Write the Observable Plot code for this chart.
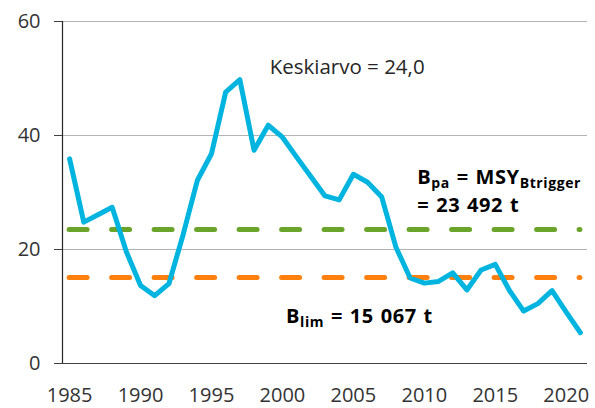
<!DOCTYPE html>
<html>
<head>
<meta charset="utf-8">
<script src="https://cdn.jsdelivr.net/npm/d3@7"></script>
<script src="https://cdn.jsdelivr.net/npm/@observablehq/plot@0.6"></script>
<style>
  html, body { margin: 0; padding: 0; background: #fff; }
  #chart svg { display: block; }
</style>
</head>
<body>
<div id="chart"></div>
<script>
// ---- data ----
const years = [1985,1986,1987,1988,1989,1990,1991,1992,1993,1994,1995,1996,1997,1998,1999,2000,2001,2002,2003,2004,2005,2006,2007,2008,2009,2010,2011,2012,2013,2014,2015,2016,2017,2018,2019,2020,2021];
const biomass = [35.9,24.8,26.1,27.4,19.6,13.7,11.9,14.0,22.6,32.1,36.8,47.6,49.8,37.4,41.8,39.7,36.2,32.8,29.4,28.7,33.2,31.8,29.2,20.4,15.0,14.1,14.4,15.9,12.9,16.4,17.4,12.8,9.2,10.5,12.8,9.0,5.4];
const bpa = 23.492;
const blim = 15.067;
const yTicks = [0, 20, 40, 60];
const xTicks = [1985, 1990, 1995, 2000, 2005, 2010, 2015, 2020];
const meanText = "Keskiarvo = 24,0";

const rows = years.map((year, i) => ({year, value: biomass[i]}));
const first = years[0], last = years[years.length - 1];

const chart = Plot.plot({
  width: 595,
  height: 408,
  marginLeft: 62,
  marginRight: 8,
  marginTop: 21,
  marginBottom: 45,
  style: {fontFamily: "'Open Sans', 'Noto Sans', sans-serif", fontSize: "20px", background: "#fff", color: "#404040"},
  x: {domain: [first - 0.5, last + 0.5]},
  y: {domain: [0, 60]},
  marks: [
    Plot.gridY(yTicks.filter(d => d > 0), {stroke: "#b3b3b3", strokeOpacity: 1, strokeWidth: 1}),
    Plot.ruleX([first - 0.5], {y1: 0, y2: 60, stroke: "#262626", strokeWidth: 1.2}),
    Plot.ruleY([bpa], {x1: first, x2: last, stroke: "#6ba42a", strokeWidth: 5, strokeDasharray: "18,24.5", strokeLinecap: "round"}),
    Plot.ruleY([blim], {x1: first, x2: last, stroke: "#ff800e", strokeWidth: 5, strokeDasharray: "18,24.5", strokeLinecap: "round"}),
    Plot.lineY(rows, {x: "year", y: "value", stroke: "#00b4e0", strokeWidth: 5, strokeLinejoin: "round", strokeLinecap: "round"}),
    Plot.axisY(yTicks, {tickSize: 8, tickPadding: 14, stroke: "#404040", fill: "#333", label: null}),
    Plot.axisX(xTicks, {tickSize: 0, tickPadding: 24, tickFormat: d => String(d), fill: "#333", label: null}),
    Plot.ruleY([0], {x1: first - 0.5, x2: last + 0.5, stroke: "#404040", strokeWidth: 1.2}),
    Plot.text([meanText], {x: [2004.56], y: [52], text: d => d, fontSize: 20.5, fill: "#262626", textAnchor: "middle", lineAnchor: "middle"})
  ]
});

// subscript annotations drawn with the library's scales
const sx = chart.scale("x"), sy = chart.scale("y");
const svg = d3.select(chart.tagName.toLowerCase() === "svg" ? chart : chart.querySelector("svg"));
const g = svg.append("g")
  .attr("font-family", "'Open Sans', 'Noto Sans', sans-serif")
  .attr("font-weight", "bold")
  .attr("text-anchor", "start")
  .attr("letter-spacing", "0.6px")
  .attr("word-spacing", "1px")
  .attr("fill", "#000");

function addLabel(xv, yv, parts) {
  const t = g.append("text").attr("x", sx.apply(xv)).attr("y", sy.apply(yv)).attr("font-size", 20).attr("text-anchor", "start");
  let prevSub = false;
  parts.forEach(([s, sub]) => {
    const ts = t.append("tspan").text(s);
    if (sub) ts.attr("font-size", 14).attr("dy", prevSub ? 0 : 4);
    else ts.attr("dy", prevSub ? -4 : 0);
    prevSub = sub;
  });
}
addLabel(2009.54, 31.4, [["B", false], ["pa", true], [" = MSY", false], ["Btrigger", true]]);
addLabel(2009.54, 26.5, [["= 23 492 t", false]]);
addLabel(2000.29, 7.0, [["B", false], ["lim", true], [" = 15 067 t", false]]);

document.getElementById("chart").appendChild(chart);
</script>
</body>
</html>
